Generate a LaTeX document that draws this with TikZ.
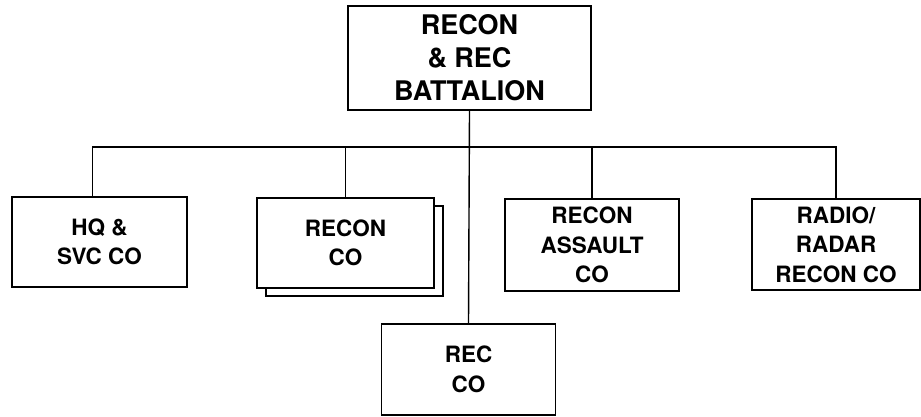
\documentclass[tikz,border=0pt]{standalone}
\usepackage{fontspec}
\setmainfont{TeX Gyre Heros}
\usetikzlibrary{positioning, calc}

\tikzset{
  unit/.style={draw, line width=1.5pt, fill=white, align=center, inner sep=0pt,
               minimum width=174pt, minimum height=91pt,
               font=\fontsize{22.5}{29.5}\selectfont\bfseries},
  hqunit/.style={unit, minimum width=243pt, minimum height=104pt,
                 font=\fontsize{27}{33}\selectfont\bfseries}
}

\begin{document}
\begin{tikzpicture}[x=1pt, y=-1pt, line width=1.4pt]
  \useasboundingbox (0,0) rectangle (921,416);
  % battalion
  \node[hqunit] (bn) at (469.5,58) {RECON\\\& REC\\BATTALION};
  % companies
  \node[unit, minimum width=175pt, minimum height=90pt] (hq) at (99.5,242) {HQ \&\\SVC CO};
  \node[unit, minimum width=177pt, minimum height=90pt] (reconbk) at (354.5,251) {};
  \node[unit, minimum width=177pt, minimum height=90pt] (recon) at (345.5,243) {RECON\\CO};
  \node[unit, minimum height=92pt] (assault) at (592,245) {RECON\\ASSAULT\\CO};
  \node[unit, minimum width=168pt] (radio) at (836,244.5) {RADIO/\\RADAR\\RECON CO};
  \node[unit] (rec) at (468.5,369.5) {REC\\CO};
  % connectors
  \coordinate (bus) at (0,147);
  \draw (bn.south) -- (rec.north);
  \draw ([xshift=-7pt]hq.north) |- (radio.north |- bus) -- (radio.north);
  \foreach \n in {recon, assault}
    \draw (\n.north) -- (\n.north |- bus);
\end{tikzpicture}
\end{document}
